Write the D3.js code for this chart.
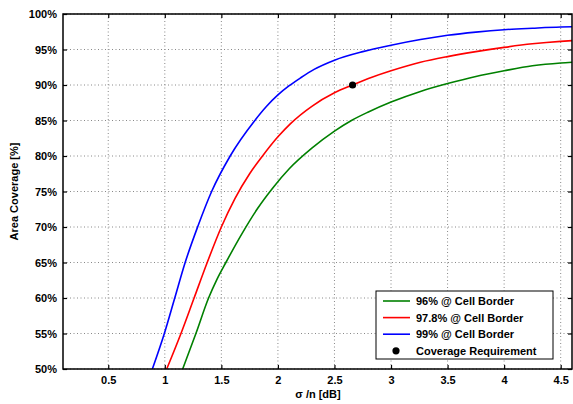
<!DOCTYPE html>
<html>
<head>
<meta charset="UTF-8">
<style>
  body { margin: 0; background: #fff; }
  svg { display: block; font-family: "Liberation Sans", Arial, sans-serif; }
  .tick text { font-weight: bold; font-size: 11px; }
</style>
</head>
<body>
<svg width="573" height="404"></svg>
<script src="https://d3js.org/d3.v7.min.js"></script>
<script>
// sigma/n [dB] vs area coverage [%]
const green96 = [
  [1.158, 50], [1.275, 55], [1.387, 60], [1.46, 62.6], [1.54, 65], [1.68, 69],
  [1.82, 72.6], [1.96, 75.6], [2.1, 78.2], [2.3, 81.1], [2.5, 83.5], [2.65, 85.0],
  [2.8, 86.2], [3.0, 87.6], [3.26, 89.1], [3.5, 90.2], [3.75, 91.2], [4.0, 92.0],
  [4.25, 92.7], [4.5, 93.1], [4.6, 93.2]
];
const red978 = [
  [1.017, 50], [1.143, 55], [1.259, 60], [1.375, 65], [1.5, 70.0], [1.62, 74.0],
  [1.75, 77.5], [1.864, 80], [2.0, 82.7], [2.114, 84.6], [2.3, 87.0], [2.5, 88.9],
  [2.66, 90], [2.8, 90.9], [3.0, 92.0], [3.26, 93.2], [3.5, 94.0], [3.75, 94.7],
  [4.0, 95.3], [4.25, 95.8], [4.5, 96.15], [4.6, 96.25]
];
const blue99 = [
  [0.89, 50], [0.996, 55], [1.088, 60], [1.18, 65], [1.29, 70], [1.414, 75],
  [1.578, 80], [1.796, 85], [1.9, 87.0], [2.0, 88.6], [2.1, 89.9], [2.2, 91.0],
  [2.32, 92.2], [2.5, 93.5], [2.75, 94.7], [3.0, 95.6], [3.26, 96.4], [3.5, 97.0],
  [3.75, 97.45], [4.0, 97.79], [4.25, 98.0], [4.5, 98.17], [4.6, 98.2]
];
const requirement = [[2.66, 90]];

const series = [
  { name: "96% @ Cell Border", color: "#008000", data: green96 },
  { name: "97.8% @ Cell Border", color: "#ff0000", data: red978 },
  { name: "99% @ Cell Border", color: "#0000ff", data: blue99 }
];

const xTicks = [0.5, 1, 1.5, 2, 2.5, 3, 3.5, 4, 4.5];
const yTicks = [50, 55, 60, 65, 70, 75, 80, 85, 90, 95, 100];

const svg = d3.select("svg");
const margin = { top: 14, right: 1, bottom: 35, left: 63 };
const width = 573 - margin.left - margin.right;
const height = 404 - margin.top - margin.bottom;
const g = svg.append("g").attr("transform", `translate(${margin.left},${margin.top})`);

const x = d3.scaleLinear().domain([0.1, 4.6]).range([0, width]);
const y = d3.scaleLinear().domain([50, 100]).range([height, 0]);

// grid
g.append("g").selectAll("line").data(xTicks).enter().append("line")
  .attr("x1", d => x(d)).attr("x2", d => x(d)).attr("y1", 0).attr("y2", height)
  .attr("stroke", "#888").attr("stroke-width", 1).attr("stroke-dasharray", "1,2.5");
g.append("g").selectAll("line").data(yTicks).enter().append("line")
  .attr("x1", 0).attr("x2", width).attr("y1", d => y(d)).attr("y2", d => y(d))
  .attr("stroke", "#888").attr("stroke-width", 1).attr("stroke-dasharray", "1,2.5");

// axes (ticks point inward)
const xAxis = g.append("g").attr("transform", `translate(0,${height})`)
  .call(d3.axisBottom(x).tickValues(xTicks).tickSizeInner(-4).tickSizeOuter(0).tickPadding(7).tickFormat(d3.format("")));
const xTop = g.append("g")
  .call(d3.axisTop(x).tickValues(xTicks).tickSizeInner(-4).tickSizeOuter(0).tickFormat(""));
const yAxis = g.append("g")
  .call(d3.axisLeft(y).tickValues(yTicks).tickSizeInner(-4).tickSizeOuter(0).tickPadding(6).tickFormat(d => d + "%"));
const yRight = g.append("g").attr("transform", `translate(${width},0)`)
  .call(d3.axisRight(y).tickValues(yTicks).tickSizeInner(-4).tickSizeOuter(0).tickFormat(""));
[xAxis, xTop, yAxis, yRight].forEach(a => {
  a.select(".domain").remove();
  a.selectAll(".tick line").attr("stroke", "#000").attr("stroke-width", 1.2);
  a.selectAll(".tick text").attr("fill", "#000");
});

// curves
const line = d3.line().x(d => x(d[0])).y(d => y(d[1])).curve(d3.curveMonotoneX);
series.forEach(s => {
  g.append("path").datum(s.data)
    .attr("fill", "none").attr("stroke", s.color).attr("stroke-width", 1.6)
    .attr("d", line);
});

g.selectAll("circle.req").data(requirement).enter().append("circle")
  .attr("class", "req")
  .attr("cx", d => x(d[0])).attr("cy", d => y(d[1])).attr("r", 3.6).attr("fill", "#000");

// frame
g.append("rect").attr("width", width).attr("height", height)
  .attr("fill", "none").attr("stroke", "#000").attr("stroke-width", 1.5);

// axis labels
svg.append("text").attr("x", 318).attr("y", 398).attr("text-anchor", "middle")
  .attr("font-size", 11).attr("font-weight", "bold").text("σ /n [dB]");
svg.append("text").attr("transform", `translate(18,${margin.top + height / 2}) rotate(-90)`)
  .attr("text-anchor", "middle").attr("font-size", 11).attr("font-weight", "bold")
  .text("Area Coverage [%]");

// legend
const lg = svg.append("g").attr("transform", "translate(376,291)");
lg.append("rect").attr("width", 177).attr("height", 68)
  .attr("fill", "#fff").attr("stroke", "#000").attr("stroke-width", 1);
const items = series.map(s => ({ name: s.name, color: s.color, type: "line" }))
  .concat([{ name: "Coverage Requirement", color: "#000", type: "dot" }]);
items.forEach((it, i) => {
  const cy = 10 + i * 16.6;
  if (it.type === "line") {
    lg.append("line").attr("x1", 7).attr("x2", 34).attr("y1", cy).attr("y2", cy)
      .attr("stroke", it.color).attr("stroke-width", 1.6);
  } else {
    lg.append("circle").attr("cx", 20).attr("cy", cy).attr("r", 3.6).attr("fill", "#000");
  }
  lg.append("text").attr("x", 40).attr("y", cy + 4).attr("font-size", 11)
    .attr("font-weight", "bold").text(it.name);
});
</script>
</body>
</html>
